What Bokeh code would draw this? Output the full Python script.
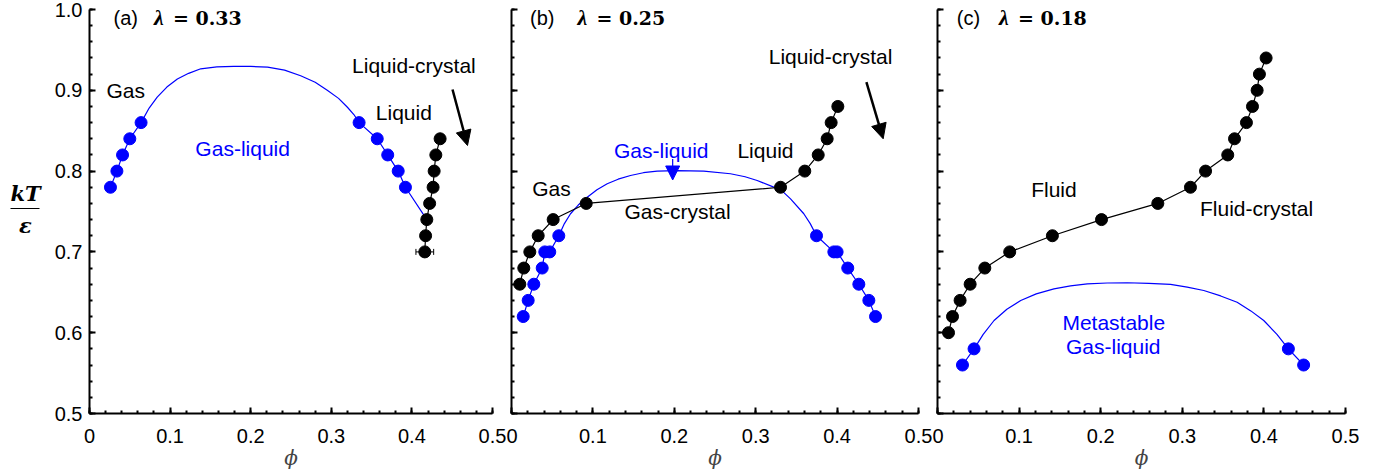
from bokeh.plotting import figure
from bokeh.layouts import row
from bokeh.models import (Range1d, SingleIntervalTicker, Label, Arrow, NormalHead,
                          Whisker, TeeHead, ColumnDataSource, NumeralTickFormatter,
                          CustomJSTickFormatter)
from bokeh.embed import file_html
from bokeh.resources import INLINE

BLUE = "#0000ff"

# ---------------- (a) lambda = 0.33 ----------------
a_gl_left_phi = [0.026, 0.034, 0.041, 0.050, 0.064]
a_gl_left_kT = [0.78, 0.80, 0.82, 0.84, 0.86]
a_gl_top_phi = [0.074, 0.084, 0.096, 0.109, 0.123, 0.138, 0.158, 0.179, 0.200, 0.221,
                0.242, 0.262, 0.280, 0.295, 0.309, 0.320, 0.328]
a_gl_top_kT = [0.878, 0.8915, 0.904, 0.914, 0.921, 0.9266, 0.929, 0.9295, 0.9295, 0.9286,
               0.925, 0.918, 0.910, 0.900, 0.890, 0.879, 0.870]
a_gl_right_phi = [0.3345, 0.357, 0.370, 0.383, 0.392]
a_gl_right_kT = [0.86, 0.84, 0.82, 0.80, 0.78]
a_lc_phi = [0.416, 0.417, 0.4185, 0.422, 0.4263, 0.4276, 0.4297, 0.435]
a_lc_kT = [0.70, 0.72, 0.74, 0.76, 0.78, 0.80, 0.82, 0.84]
a_lc_err = [0.011, 0, 0, 0, 0, 0, 0, 0]
a_triple_index = 2  # gas-liquid binodal ends on the liquid-crystal line here

# ---------------- (b) lambda = 0.25 ----------------
b_gl_left_phi = [0.0144, 0.0205, 0.0274, 0.0377, 0.0409, 0.047, 0.0581]
b_gl_left_kT = [0.62, 0.64, 0.66, 0.68, 0.70, 0.70, 0.72]
b_gl_top_phi = [0.065, 0.0725, 0.082, 0.093, 0.105, 0.1176, 0.131, 0.1462, 0.162, 0.179,
                0.2036, 0.2362, 0.269, 0.287, 0.3018, 0.3222, 0.334, 0.3428, 0.3591, 0.367]
b_gl_top_kT = [0.735, 0.7472, 0.758, 0.7677, 0.777, 0.7843, 0.790, 0.7946, 0.798, 0.7999,
               0.8007, 0.7999, 0.7967, 0.793, 0.7884, 0.7801, 0.774, 0.7657, 0.7472, 0.735]
b_gl_right_phi = [0.3747, 0.396, 0.400, 0.4131, 0.4267, 0.439, 0.4472]
b_gl_right_kT = [0.72, 0.70, 0.70, 0.68, 0.66, 0.64, 0.62]
b_cx_phi = [0.0102, 0.0151, 0.0225, 0.0328, 0.0512, 0.0918, 0.3305, 0.3603,
            0.3768, 0.3878, 0.3927, 0.4009]
b_cx_kT = [0.66, 0.68, 0.70, 0.72, 0.74, 0.76, 0.78, 0.80, 0.82, 0.84, 0.86, 0.88]

# ---------------- (c) lambda = 0.18 ----------------
c_gl_left_phi = [0.0306, 0.0448]
c_gl_left_kT = [0.56, 0.58]
c_gl_top_phi = [0.056, 0.0693, 0.085, 0.102, 0.121, 0.1427, 0.163, 0.1836, 0.208, 0.2326,
                0.259, 0.2856, 0.306, 0.3263, 0.347, 0.3672, 0.384, 0.3998, 0.416]
c_gl_top_kT = [0.598, 0.6151, 0.629, 0.6399, 0.648, 0.6543, 0.658, 0.6605, 0.6615, 0.6618,
               0.661, 0.6597, 0.6565, 0.6522, 0.6455, 0.6377, 0.627, 0.6151, 0.598]
c_gl_right_phi = [0.430, 0.4487]
c_gl_right_kT = [0.58, 0.56]
c_fc_phi = [0.0135, 0.0184, 0.0277, 0.040, 0.058, 0.0885, 0.1408, 0.201, 0.270,
            0.310, 0.3285, 0.3557, 0.364, 0.3786, 0.386, 0.3917, 0.3945, 0.4027]
c_fc_kT = [0.60, 0.62, 0.64, 0.66, 0.68, 0.70, 0.72, 0.74, 0.76, 0.78, 0.80, 0.82,
           0.84, 0.86, 0.88, 0.90, 0.92, 0.94]

FRAME_H = 404
TOP = 9
BOTTOM = 57
SANS = "Liberation Sans"
SERIF = "DejaVu Serif"
TITLE_Y = 0.9895


def make_panel(frame_w, left, right, show_ylabels):
    p = figure(frame_width=frame_w, frame_height=FRAME_H,
               min_border_left=left, min_border_right=right,
               min_border_top=TOP, min_border_bottom=BOTTOM,
               x_range=Range1d(0, 0.5), y_range=Range1d(0.5, 1.0),
               toolbar_location=None, output_backend="svg")
    p.grid.visible = False
    p.outline_line_color = None
    p.background_fill_color = "white"
    p.border_fill_color = "white"
    p.xaxis.ticker = SingleIntervalTicker(interval=0.1, num_minor_ticks=5)
    p.yaxis.ticker = SingleIntervalTicker(interval=0.1, num_minor_ticks=5)
    p.xaxis.formatter = NumeralTickFormatter(format="0.[0]")
    p.xaxis.major_label_overrides = {0: "0"}
    p.yaxis.formatter = NumeralTickFormatter(format="0.0")
    for ax in (p.xaxis, p.yaxis):
        ax.axis_line_width = 2
        ax.axis_line_color = "black"
        ax.major_tick_in = 6
        ax.major_tick_out = 0
        ax.minor_tick_in = 3
        ax.minor_tick_out = 0
        ax.major_tick_line_width = 2
        ax.minor_tick_line_width = 2
        ax.major_label_text_font = SANS
        ax.major_label_text_font_size = "20px"
        ax.major_label_text_color = "black"
    p.xaxis.major_label_standoff = 15
    p.xaxis.axis_label = "ϕ"
    p.xaxis.axis_label_text_font = SERIF
    p.xaxis.axis_label_text_font_style = "italic"
    p.xaxis.axis_label_text_font_size = "20px"
    p.xaxis.axis_label_standoff = 0
    p.yaxis.major_label_standoff = 7
    if not show_ylabels:
        p.yaxis.formatter = CustomJSTickFormatter(code="return ''")
        p.yaxis.major_label_standoff = 0
    return p


def add_text(p, x, y, text, color="black", size="21px", align="center",
             font=SANS, style="normal", x_offset=0):
    p.add_layout(Label(x=x, y=y, text=text, text_align=align, text_baseline="middle",
                       text_font=font, text_font_size=size, text_font_style=style,
                       text_color=color, x_offset=x_offset))


def add_title(p, x_tag, x_lam, tag, lam):
    add_text(p, x_tag, TITLE_Y, tag, size="20px")
    add_text(p, x_lam, TITLE_Y, "λ", size="22px", align="left", font="Liberation Serif",
             style="bold italic")
    add_text(p, x_lam, TITLE_Y, "= " + lam, size="19px", align="left", font=SERIF,
             style="bold", x_offset=19)


def add_arrow(p, x0, y0, x1, y1, color="black", width=2.5, size=15):
    p.add_layout(Arrow(end=NormalHead(size=size, fill_color=color, line_color=color,
                                      line_width=1),
                       x_start=x0, y_start=y0, x_end=x1, y_end=y1,
                       line_color=color, line_width=width))


def binodal(p, lphi, lkT, tphi, tkT, rphi, rkT, extra_phi=(), extra_kT=()):
    p.line(list(lphi) + list(tphi) + list(rphi) + list(extra_phi),
           list(lkT) + list(tkT) + list(rkT) + list(extra_kT),
           line_color=BLUE, line_width=1.2)
    p.scatter(list(lphi) + list(rphi), list(lkT) + list(rkT), size=12,
              fill_color=BLUE, line_color=BLUE)


# ---- y-axis label column ----
ylab = figure(frame_width=50, frame_height=FRAME_H, min_border_left=0, min_border_right=0,
              min_border_top=TOP, min_border_bottom=BOTTOM,
              x_range=Range1d(0, 50), y_range=Range1d(0.5, 1.0),
              toolbar_location=None, output_backend="svg")
ylab.axis.visible = False
ylab.grid.visible = False
ylab.outline_line_color = None
add_text(ylab, 25, 0.772, "kT", size="21px", font=SERIF, style="bold italic")
ylab.segment(x0=[10], y0=[0.7537], x1=[39], y1=[0.7537], line_color="black", line_width=1.2)
add_text(ylab, 25, 0.733, "ε", size="21px", font=SERIF, style="bold italic")

# ---- panel (a) ----
pa = make_panel(403, 39, 14, True)
binodal(pa, a_gl_left_phi, a_gl_left_kT, a_gl_top_phi, a_gl_top_kT,
        a_gl_right_phi, a_gl_right_kT,
        [a_lc_phi[a_triple_index]], [a_lc_kT[a_triple_index]])
pa.line(a_lc_phi, a_lc_kT, line_color="black", line_width=1.2)
err_src = ColumnDataSource(dict(
    base=[k for k, e in zip(a_lc_kT, a_lc_err) if e > 0],
    lower=[f - e for f, e in zip(a_lc_phi, a_lc_err) if e > 0],
    upper=[f + e for f, e in zip(a_lc_phi, a_lc_err) if e > 0]))
pa.add_layout(Whisker(source=err_src, base="base", lower="lower", upper="upper",
                      dimension="width", line_color="black", line_width=1,
                      lower_head=TeeHead(size=6, line_width=1),
                      upper_head=TeeHead(size=6, line_width=1)))
pa.scatter(a_lc_phi, a_lc_kT, size=12, fill_color="black", line_color="black")
add_title(pa, 0.045, 0.080, "(a)", "0.33")
add_text(pa, 0.045, 0.900, "Gas")
add_text(pa, 0.190, 0.828, "Gas-liquid", color=BLUE)
add_text(pa, 0.390, 0.8725, "Liquid")
add_text(pa, 0.4025, 0.9307, "Liquid-crystal")
add_arrow(pa, 0.4504, 0.901, 0.469, 0.8317)

# ---- panel (b) ----
pb = make_panel(407, 5, 14, False)
binodal(pb, b_gl_left_phi, b_gl_left_kT, b_gl_top_phi, b_gl_top_kT,
        b_gl_right_phi, b_gl_right_kT)
pb.line(b_cx_phi, b_cx_kT, line_color="black", line_width=1.2)
pb.scatter(b_cx_phi, b_cx_kT, size=12, fill_color="black", line_color="black")
add_title(pb, 0.0377, 0.081, "(b)", "0.25")
add_text(pb, 0.392, 0.9418, "Liquid-crystal")
add_text(pb, 0.184, 0.826, "Gas-liquid", color=BLUE)
add_text(pb, 0.312, 0.8255, "Liquid")
add_text(pb, 0.049, 0.779, "Gas")
add_text(pb, 0.204, 0.750, "Gas-crystal")
add_arrow(pb, 0.436, 0.910, 0.4566, 0.840)
add_arrow(pb, 0.198, 0.815, 0.198, 0.789, color=BLUE, width=1.2, size=14)

# ---- panel (c) ----
pc = make_panel(408, 5, 14, False)
binodal(pc, c_gl_left_phi, c_gl_left_kT, c_gl_top_phi, c_gl_top_kT,
        c_gl_right_phi, c_gl_right_kT)
pc.line(c_fc_phi, c_fc_kT, line_color="black", line_width=1.2)
pc.scatter(c_fc_phi, c_fc_kT, size=12, fill_color="black", line_color="black")
add_title(pc, 0.038, 0.0754, "(c)", "0.18")
add_text(pc, 0.1427, 0.7769, "Fluid")
add_text(pc, 0.391, 0.754, "Fluid-crystal")
add_text(pc, 0.216, 0.6126, "Metastable", color=BLUE)
add_text(pc, 0.2154, 0.583, "Gas-liquid", color=BLUE)

layout = row(ylab, pa, pb, pc)
open("out.html", "w").write(file_html(layout, INLINE))
